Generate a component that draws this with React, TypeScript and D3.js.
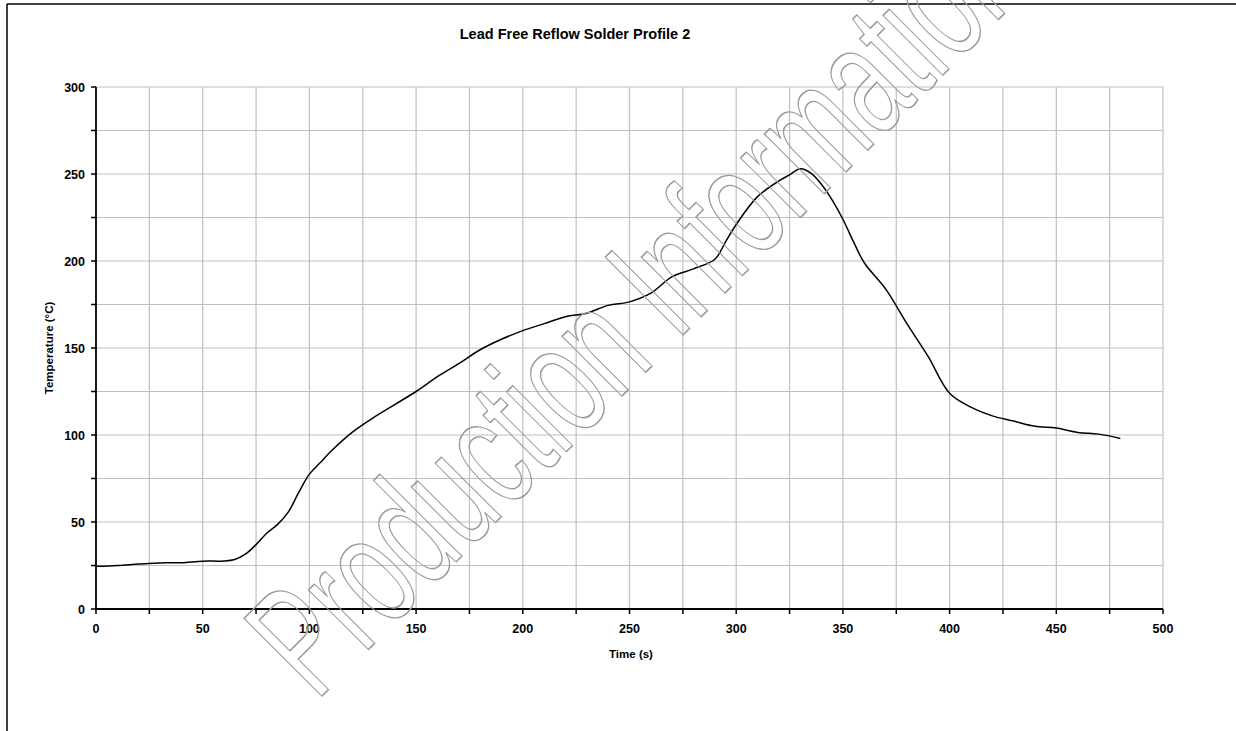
import React from "react";
import * as d3 from "d3";

const timeS = [0, 10, 20, 30, 40, 50, 60, 65, 70, 75, 80, 85, 90, 95, 100, 105, 110, 120, 130, 140, 150, 160, 170, 180, 190, 200, 210, 220, 230, 240, 250, 260, 270, 280, 290, 295, 300, 310, 320, 325, 330, 335, 340, 345, 350, 355, 360, 370, 380, 390, 400, 410, 420, 430, 440, 450, 460, 470, 480];
const tempC = [24.5, 25, 25.8, 26.5, 26.6, 27.5, 27.6, 28.5, 31.5, 37, 43.5, 48.5, 55.5, 67, 77.5, 84, 90.5, 101.5, 110, 117.5, 125, 133.5, 141, 149, 155, 160, 164, 168, 170, 174.5, 176.5, 181.5, 191, 195.5, 201, 211, 221, 237, 246, 249.5, 253, 250.5, 244, 235, 224, 211, 199, 184, 164, 145, 124, 116, 111, 108, 105, 104, 101.5, 100.5, 98];

const xTicks = [0, 50, 100, 150, 200, 250, 300, 350, 400, 450, 500];
const xMinor = d3.range(0, 501, 25);
const yTicks = [0, 50, 100, 150, 200, 250, 300];
const yMinor = d3.range(0, 301, 25);

const title = "Lead Free Reflow Solder Profile 2";
const xTitle = "Time (s)";
const yTitle = "Temperature (°C)";
const watermark = "Production Information";

export default function App() {
  const W = 1236, H = 731;
  const x = d3.scaleLinear().domain([0, 500]).range([96, 1163]);
  const y = d3.scaleLinear().domain([0, 300]).range([609, 87]);
  const pts = timeS.map((t, i) => [t, tempC[i]] as [number, number]);
  const line = d3.line<[number, number]>().x(d => x(d[0])).y(d => y(d[1])).curve(d3.curveCatmullRom.alpha(0.5));
  const font = "Arial, 'Liberation Sans', Helvetica, sans-serif";
  return (
    <svg width={W} height={H} style={{ position: "absolute", left: 0, top: 0, background: "#fff" }} fontFamily={font}>
      <rect x={0} y={0} width={W} height={H} fill="#fff" />
      {/* frame */}
      <line x1={7} y1={4} x2={W} y2={4} stroke="#000" strokeWidth={1.5} />
      <line x1={7} y1={4} x2={7} y2={H} stroke="#000" strokeWidth={1.5} />
      {/* grid */}
      {xMinor.filter(v => v > 0).map(v => (
        <line key={"gx" + v} x1={x(v)} x2={x(v)} y1={y(0)} y2={y(300)} stroke="#c0c0c0" strokeWidth={1.2} />
      ))}
      {yMinor.filter(v => v > 0).map(v => (
        <line key={"gy" + v} x1={x(0)} x2={x(500)} y1={y(v)} y2={y(v)} stroke="#c0c0c0" strokeWidth={1.2} />
      ))}
      {/* axes */}
      <line x1={x(0)} x2={x(500)} y1={y(0)} y2={y(0)} stroke="#000" strokeWidth={1.8} />
      <line x1={x(0)} x2={x(0)} y1={y(0)} y2={y(300)} stroke="#000" strokeWidth={1.8} />
      {xMinor.map(v => (
        <line key={"tx" + v} x1={x(v)} x2={x(v)} y1={y(0)} y2={y(0) + 5} stroke="#000" strokeWidth={1.5} />
      ))}
      {yMinor.map(v => (
        <line key={"ty" + v} x1={x(0) - 5} x2={x(0)} y1={y(v)} y2={y(v)} stroke="#000" strokeWidth={1.5} />
      ))}
      {xTicks.map(v => (
        <text key={"lx" + v} x={x(v)} y={633} textAnchor="middle" fontSize={12.5} fontWeight="bold">{v}</text>
      ))}
      {yTicks.map(v => (
        <text key={"ly" + v} x={85} y={y(v) + 4.5} textAnchor="end" fontSize={12.5} fontWeight="bold">{v}</text>
      ))}
      {/* curve */}
      <path d={line(pts) || ""} fill="none" stroke="#000" strokeWidth={1.5} />
      {/* titles */}
      <text x={575} y={39} textAnchor="middle" fontSize={14.5} fontWeight="bold">{title}</text>
      <text x={631} y={658} textAnchor="middle" fontSize={11.5} fontWeight="bold">{xTitle}</text>
      <text transform={`translate(53,348) rotate(-90)`} textAnchor="middle" fontSize={11.5} fontWeight="bold">{yTitle}</text>
      {/* watermark */}
      <g transform="translate(316,702) rotate(-45) scale(0.63,1)">
        <text x={0} y={0} fontSize={160} fill="none" stroke="#9a9a9a" strokeWidth={1.3} style={{ vectorEffect: "non-scaling-stroke" } as any}>{watermark}</text>
      </g>
    </svg>
  );
}
